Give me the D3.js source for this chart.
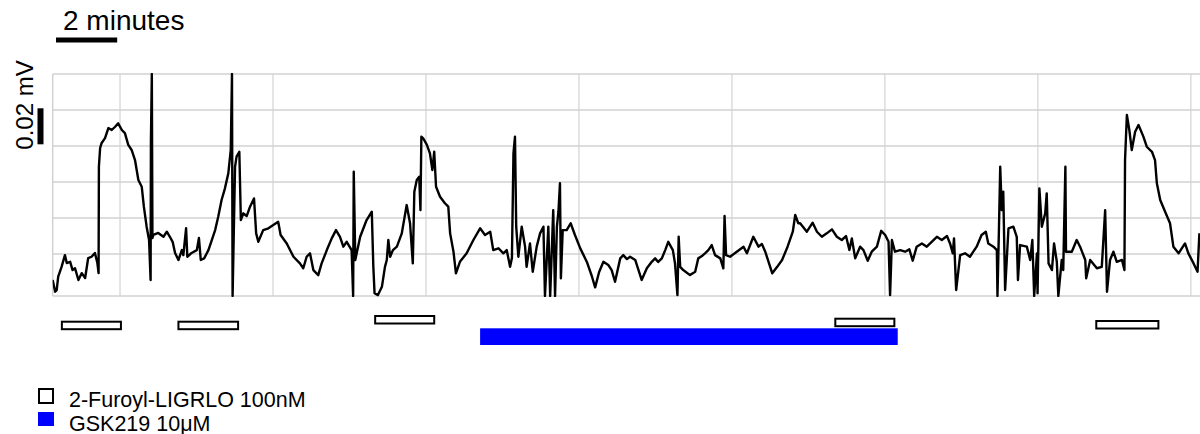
<!DOCTYPE html>
<html>
<head>
<meta charset="utf-8">
<script src="https://cdn.jsdelivr.net/npm/d3@7"></script>
<style>
  body { margin: 0; background: #fff; }
  svg { display: block; }
  text { font-family: "Liberation Sans", Arial, Helvetica, sans-serif; fill: #000; }
</style>
</head>
<body>
<svg id="chart" width="1200" height="434"></svg>
<script>
// Field potential trace: time in minutes, potential in mV
const traceTime = [
  2.80, 2.88, 2.93, 2.98, 3.09, 3.20, 3.26, 3.37, 3.45, 3.53,
  3.64, 3.75, 3.86, 3.96, 4.07, 4.18, 4.26, 4.30, 4.31, 4.35,
  4.40, 4.51, 4.62, 4.73, 4.84, 4.94, 5.06, 5.16, 5.27, 5.38,
  5.49, 5.60, 5.71, 5.78, 5.87, 5.95, 6.00, 6.01, 6.04, 6.06,
  6.09, 6.25, 6.42, 6.53, 6.63, 6.72, 6.80, 6.91, 7.02, 7.07,
  7.16, 7.20, 7.34, 7.51, 7.58, 7.64, 7.75, 7.89, 8.00, 8.11,
  8.21, 8.32, 8.43, 8.54, 8.62, 8.66, 8.68, 8.76, 8.81, 8.90,
  8.95, 9.03, 9.14, 9.25, 9.38, 9.45, 9.52, 9.68, 9.85, 10.01,
  10.17, 10.25, 10.45, 10.67, 10.88, 10.99, 11.10, 11.21, 11.32, 11.48,
  11.59, 11.76, 11.92, 12.06, 12.19, 12.30, 12.41, 12.57, 12.62, 12.64,
  12.69, 12.85, 13.06, 13.23, 13.28, 13.32, 13.43, 13.56, 13.66, 13.72,
  13.77, 13.83, 13.92, 14.05, 14.21, 14.37, 14.48, 14.57, 14.62, 14.70,
  14.78, 14.82, 14.85, 14.91, 15.03, 15.13, 15.21, 15.27, 15.33, 15.46,
  15.62, 15.73, 15.79, 15.90, 15.98, 16.11, 16.33, 16.55, 16.77, 16.93,
  17.10, 17.20, 17.37, 17.53, 17.64, 17.75, 17.81, 17.86, 17.91, 17.95,
  18.02, 18.13, 18.24, 18.29, 18.40, 18.49, 18.62, 18.73, 18.84, 18.89,
  19.00, 19.06, 19.16, 19.22, 19.28, 19.33, 19.38, 19.41, 19.47, 19.60,
  19.73, 19.87,
  20.04, 20.26, 20.42, 20.53, 20.66, 20.80, 20.96, 21.07, 21.18, 21.35,
  21.45, 21.57, 21.67, 21.84, 22.05, 22.22, 22.38, 22.49, 22.59, 22.71,
  22.82, 22.92, 23.07, 23.14, 23.22, 23.26, 23.31, 23.41, 23.63, 23.80,
  23.90, 24.02, 24.12, 24.23, 24.34, 24.45, 24.62, 24.72, 24.76, 24.81,
  24.94, 25.16, 25.38, 25.49, 25.70, 25.87, 25.98, 26.09, 26.32, 26.48,
  26.64, 26.82, 26.99, 27.07, 27.17,
  27.23, 27.45, 27.64, 27.78, 27.94, 28.10, 28.27, 28.43, 28.59, 28.73,
  28.84, 28.92, 29.03, 29.19, 29.30, 29.44, 29.57, 29.74, 29.88, 30.01,
  30.12, 30.17, 30.23, 30.33, 30.50, 30.66, 30.80, 30.91, 31.04, 31.21,
  31.37, 31.53, 31.70, 31.86, 32.03, 32.13, 32.22, 32.26, 32.33, 32.46,
  32.62, 32.78, 32.89, 33.00, 33.16, 33.30, 33.38, 33.55, 33.66,
  33.68, 33.73, 33.77, 33.82, 33.87, 33.93, 34.04, 34.20, 34.31, 34.35,
  34.42, 34.64, 34.75, 34.82, 34.88, 34.97, 34.99, 35.05, 35.13, 35.24,
  35.29, 35.35, 35.46, 35.53, 35.62, 35.67, 35.78, 35.83, 35.90, 35.92,
  36.11, 36.27, 36.38, 36.55, 36.58, 36.71, 36.93, 37.09, 37.20, 37.26,
  37.36, 37.47, 37.58, 37.75, 37.83, 37.85, 37.91, 37.99, 38.07, 38.18,
  38.29, 38.45, 38.56, 38.73, 38.83, 38.89, 39.00, 39.16, 39.32, 39.43,
  39.60, 39.81, 39.92, 40.09, 40.22, 40.28
];
const traceMv = [
  -0.0144, -0.0209, -0.0200, -0.0126, -0.0071, -0.0006, -0.0050, -0.0043, -0.0089, -0.0079,
  -0.0144, -0.0106, -0.0133, -0.0022, -0.0015, 0.0006, -0.0050, -0.0106, 0.0485, 0.0589,
  0.0617, 0.0644, 0.0700, 0.0689, 0.0707, 0.0726, 0.0689, 0.0672, 0.0606, 0.0578,
  0.0522, 0.0411, 0.0374, 0.0263, 0.0152, 0.0078, -0.0144, 0.0624, 0.1000, 0.0089,
  0.0106, 0.0117, 0.0096, 0.0124, 0.0096, 0.0068, 0.0006, -0.0033, 0.0022, -0.0006,
  0.0143, -0.0015, 0.0006, 0.0022, 0.0089, -0.0033, -0.0024, 0.0022, 0.0078, 0.0133,
  0.0207, 0.0300, 0.0365, 0.0448, 0.0578, 0.1000, -0.0233, 0.0485, 0.0541, 0.0568,
  0.0189, 0.0226, 0.0211, 0.0263, 0.0309, 0.0115, 0.0068, 0.0133, 0.0143, 0.0161,
  0.0179, 0.0106, 0.0059, -0.0015, -0.0052, -0.0079, -0.0015, 0.0004, -0.0089, -0.0117,
  -0.0052, 0.0022, 0.0087, 0.0133, 0.0096, 0.0041, 0.0068, 0.0022, -0.0233, 0.0457,
  -0.0033, 0.0096, 0.0189, 0.0235, -0.0071, -0.0218, -0.0228, -0.0182, -0.0071, -0.0033,
  0.0078, -0.0015, 0.0022, 0.0041, 0.0115, 0.0272, 0.0171, -0.0052, 0.0346, 0.0411,
  0.0429, 0.0244, 0.0652, 0.0643, 0.0606, 0.0559, 0.0467, 0.0568, 0.0374, 0.0318,
  0.0282, 0.0263, 0.0115, 0.0013, -0.0107, -0.0043, 0.0004, 0.0078, 0.0143, 0.0106,
  0.0124, 0.0022, 0.0032, 0.0004, 0.0022, -0.0071, -0.0022, 0.0559, 0.0652, 0.0152,
  -0.0015, 0.0152, 0.0041, -0.0071, 0.0059, -0.0098, 0.0041, 0.0115, 0.0152, -0.0233,
  0.0152, -0.0233, 0.0244, -0.0233, 0.0152, 0.0235, 0.0393, -0.0135, 0.0133, 0.0133,
  0.0171, 0.0106,
  0.0033, -0.0044, -0.0122, -0.0185, -0.0100, -0.0043, -0.0061, -0.0089, -0.0154, -0.0024,
  -0.0006, -0.0028, -0.0015, -0.0033, -0.0144, -0.0079, -0.0043, -0.0024, -0.0044, -0.0024,
  0.0022, 0.0068, 0.0022, -0.0052, -0.0228, 0.0096, -0.0071, -0.0089, -0.0117, -0.0098,
  -0.0024, -0.0011, 0.0004, 0.0022, 0.0050, -0.0006, -0.0024, -0.0079, 0.0211, -0.0006,
  -0.0015, 0.0013, 0.0041, 0.0004, 0.0096, 0.0041, 0.0056, 0.0013, -0.0107, -0.0071,
  -0.0033, 0.0041, 0.0124, 0.0217, 0.0171,
  0.0171, 0.0124, 0.0174, 0.0124, 0.0096, 0.0115, 0.0137, 0.0096, 0.0078, 0.0100,
  0.0022, 0.0087, -0.0024, 0.0041, 0.0022, -0.0037, 0.0013, 0.0041, 0.0129, 0.0106,
  0.0068, -0.0228, 0.0078, 0.0013, 0.0022, 0.0013, 0.0026, -0.0037, 0.0041, 0.0059,
  0.0041, 0.0068, 0.0096, 0.0078, 0.0100, 0.0059, 0.0004, 0.0087, -0.0200, -0.0006,
  0.0004, -0.0015, 0.0013, 0.0041, 0.0106, 0.0124, 0.0059, 0.0041, 0.0022,
  -0.0233, 0.0152, 0.0485, 0.0244, 0.0346, -0.0200, 0.0143, 0.0152, 0.0096, -0.0144,
  0.0050, 0.0041, -0.0033, 0.0078, -0.0233, 0.0004, -0.0217, 0.0365, 0.0152, 0.0226,
  0.0337, -0.0052, -0.0089, 0.0059, -0.0043, -0.0233, -0.0033, -0.0089, 0.0485, 0.0013,
  0.0013, 0.0078, 0.0041, -0.0033, -0.0135, -0.0033, -0.0079, -0.0071, 0.0244, -0.0209,
  -0.0033, 0.0013, -0.0043, -0.0033, -0.0089, 0.0522, 0.0772, 0.0689, 0.0578, 0.0679,
  0.0717, 0.0652, 0.0596, 0.0568, 0.0522, 0.0393, 0.0300, 0.0235, 0.0171, 0.0041,
  0.0004, 0.0059, 0.0004, -0.0052, -0.0098, 0.0115
];

// Grid positions (minutes / mV)
const gridMinutes = [5, 10, 15, 20, 25, 30, 35, 40];
const gridMv = [0, 0.02, 0.04, 0.06, 0.08, 0.10];

// Drug applications (minutes)
const furoylLabel = "2-Furoyl-LIGRLO 100nM";
const furoylStart = [3.10, 6.91, 13.34, 28.38, 36.91];
const furoylEnd   = [5.03, 8.86, 15.27, 30.31, 38.94];
const gskLabel = "GSK219 10μM";
const gskStart = [16.77];
const gskEnd   = [30.42];

// Scale bars
const timeBarMinutes = 2;
const timeBarLabel = "2 minutes";
const voltBarMv = 0.02;
const voltBarLabel = "0.02 mV";

// ---- layout ----
const svg = d3.select("#chart");
const plot = { left: 52.7, right: 1200, top: 74, bottom: 296 };
const furoylRowY = [321.7, 321.7, 316, 318.7, 321];

const x = d3.scaleLinear().domain([2.8, 40.3]).range([plot.left, plot.right]);
const y = d3.scaleLinear().domain([-0.0233, 0.10]).range([plot.bottom, plot.top]);

svg.append("defs").append("clipPath").attr("id", "plotClip")
  .append("rect")
  .attr("x", plot.left).attr("y", plot.top - 1)
  .attr("width", plot.right - plot.left).attr("height", plot.bottom - plot.top + 2);

// grid
const grid = svg.append("g");
grid.selectAll("line.v").data(gridMinutes).join("line")
  .attr("x1", d => x(d)).attr("x2", d => x(d))
  .attr("y1", plot.top).attr("y2", plot.bottom)
  .attr("stroke", "#dcdcdc").attr("stroke-width", 1.5);
grid.selectAll("line.h").data(gridMv).join("line")
  .attr("x1", plot.left).attr("x2", plot.right)
  .attr("y1", d => y(d)).attr("y2", d => y(d))
  .attr("stroke", "#d2d2d2").attr("stroke-width", 1.5);
// frame: left and bottom edges
grid.append("line")
  .attr("x1", plot.left).attr("x2", plot.left)
  .attr("y1", plot.top).attr("y2", plot.bottom)
  .attr("stroke", "#d2d2d2").attr("stroke-width", 1.5);
grid.append("line")
  .attr("x1", plot.left).attr("x2", plot.right)
  .attr("y1", plot.bottom).attr("y2", plot.bottom)
  .attr("stroke", "#d2d2d2").attr("stroke-width", 1.5);

// trace
const pts = traceTime.map((t, i) => [t, traceMv[i]]);
const line = d3.line().x(d => x(d[0])).y(d => y(d[1]));
svg.append("path")
  .attr("clip-path", "url(#plotClip)")
  .attr("d", line(pts))
  .attr("fill", "none")
  .attr("stroke", "#000")
  .attr("stroke-width", 2.4)
  .attr("stroke-linejoin", "round");

// GSK219 application bar
svg.selectAll("rect.gsk").data(gskStart).join("rect")
  .attr("x", d => x(d))
  .attr("width", (d, i) => x(gskEnd[i]) - x(d))
  .attr("y", 328.3).attr("height", 16.7)
  .attr("fill", "#0000ff");

// 2-Furoyl-LIGRLO application bars
svg.selectAll("rect.furoyl").data(furoylStart).join("rect")
  .attr("x", d => x(d))
  .attr("width", (d, i) => x(furoylEnd[i]) - x(d))
  .attr("y", (d, i) => furoylRowY[i]).attr("height", 7.5)
  .attr("fill", "#fff").attr("stroke", "#000").attr("stroke-width", 2);

// time scale bar
const tb0 = x.domain()[0];
svg.append("rect")
  .attr("x", 56).attr("y", 37.5)
  .attr("width", x(tb0 + timeBarMinutes) - x(tb0)).attr("height", 5)
  .attr("fill", "#000");
svg.append("text")
  .attr("x", 63).attr("y", 30)
  .attr("font-size", 28)
  .text(timeBarLabel);

// voltage scale bar
const vbH = y(0) - y(voltBarMv);
svg.append("rect")
  .attr("x", 37.5).attr("y", 144.3 - vbH)
  .attr("width", 6).attr("height", vbH)
  .attr("fill", "#000");
svg.append("text")
  .attr("transform", "translate(33,105) rotate(-90)")
  .attr("text-anchor", "middle")
  .attr("font-size", 24)
  .text(voltBarLabel);

// legend
svg.append("rect")
  .attr("x", 39).attr("y", 389).attr("width", 14).attr("height", 14)
  .attr("fill", "#fff").attr("stroke", "#000").attr("stroke-width", 2);
svg.append("text").attr("x", 69).attr("y", 406.5).attr("font-size", 21.5).text(furoylLabel);
svg.append("rect")
  .attr("x", 38).attr("y", 412).attr("width", 16).attr("height", 14)
  .attr("fill", "#0000ff");
svg.append("text").attr("x", 69).attr("y", 430.5).attr("font-size", 21.5).text(gskLabel);
</script>
</body>
</html>
